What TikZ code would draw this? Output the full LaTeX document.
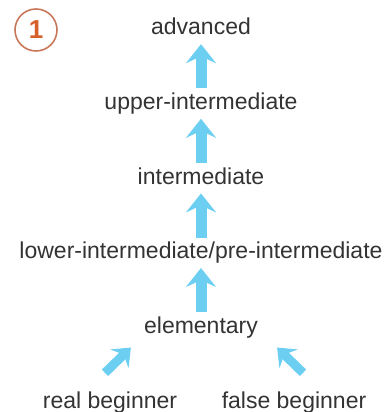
\documentclass[tikz,border=0pt]{standalone}
\usepackage{fontspec}
\setmainfont{Liberation Sans}
\usepackage{tikz}
\usetikzlibrary{arrows.meta,positioning}
\definecolor{skyarrow}{HTML}{6CCFF2}
\definecolor{textgray}{HTML}{333333}
\definecolor{ringbrown}{HTML}{C9775A}
\definecolor{numorange}{HTML}{D5602A}
\tikzstyle{level} = [text=textgray, font=\fontsize{23}{27}\selectfont, inner sep=0pt, text height=17pt, text depth=5pt]
\tikzstyle{up} = [draw=skyarrow, line width=11pt, -{Stealth[length=19pt,width=30pt,inset=7pt]}, shorten >=4pt, shorten <=4pt]
\tikzstyle{diag} = [draw=skyarrow, line width=9pt, -{Stealth[length=16pt,width=26pt,inset=6pt]}]
\tikzstyle{badge} = [circle, draw=ringbrown, line width=1.6pt, minimum size=42pt, inner sep=0pt, text=numorange, font=\fontsize{26}{26}\selectfont\bfseries]

\begin{document}
\begin{tikzpicture}[node distance = 74.6pt, auto, x=1pt, y=1pt]
    \useasboundingbox (0,0) rectangle (387,412);
    % Badge
    \node [badge] (num) at (36,382) {1};
    % Levels
    \node [level] (adv) at (201,383) {advanced};
    \node [level, below of=adv] (upper) {upper-intermediate};
    \node [level, below of=upper] (inter) {intermediate};
    \node [level, below of=inter] (lower) {lower-intermediate/pre-intermediate};
    \node [level, below of=lower] (elem) {elementary};
    \node [level, below of=elem, xshift=-91pt] (real) {real beginner};
    \node [level, below of=elem, xshift=93pt] (false) {false beginner};
    % Arrows
    \path [up] (upper.north) -- (adv.south);
    \path [up] (inter.north) -- (upper.south);
    \path [up] (lower.north) -- (inter.south);
    \path [up] (elem.north) -- (lower.south);
    \path [diag] ([shift={(-5pt,18pt)}]real.north) -- ([shift={(-13pt,-9pt)}]elem.south west);
    \path [diag] ([shift={(9pt,18pt)}]false.north) -- ([shift={(19pt,-9pt)}]elem.south east);
\end{tikzpicture}
\end{document}
